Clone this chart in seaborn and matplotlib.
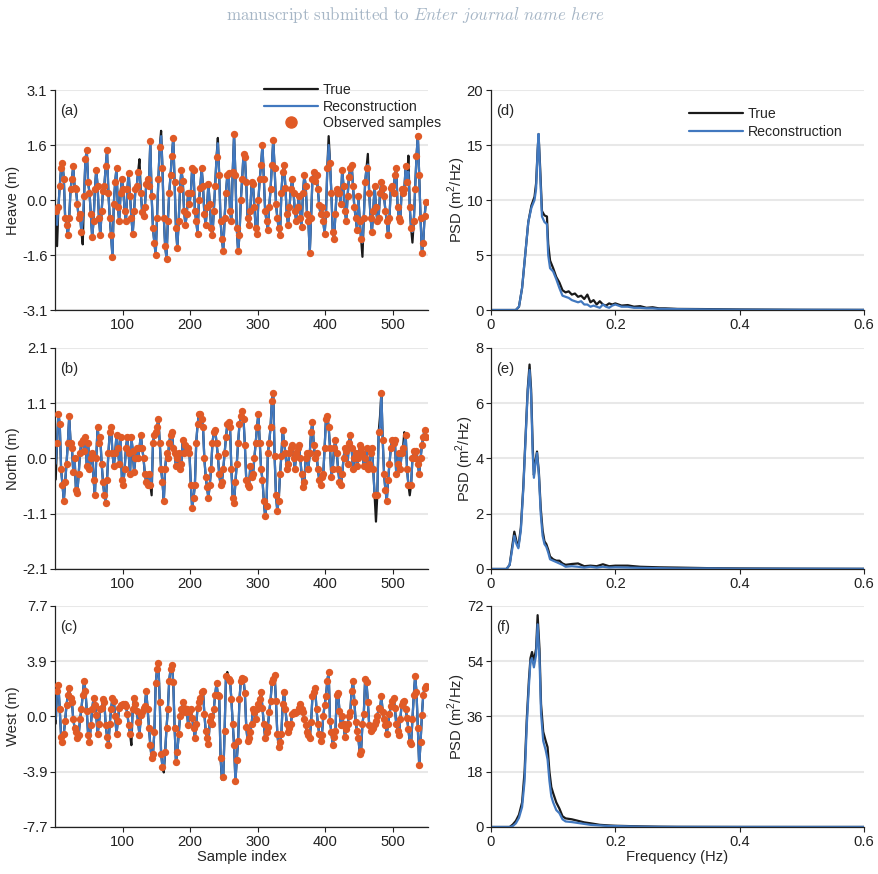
import numpy as np
import pandas as pd
import matplotlib
matplotlib.use("Agg")
import matplotlib.pyplot as plt
import seaborn as sns
from matplotlib.lines import Line2D

# time series, one value every 2 samples (s = 1, 3, 5, ...)
heave_true = [
    -0.3, -1.3, -0.2, 0.4, 0.9, 1.05, 0.6, -0.5, -0.7, -1.0, -0.5, 0.3, 0.6, 0.95, 0.35, 0.3, -0.1, -0.5, -0.4, -0.9, -1.25, 0.1, 1.15, 1.4, 0.5,
    0.2, -0.4, -1.05, -0.6, 0.3, 0.85, 0.4, -0.5, -1.0, -0.3, 0.25, 0.4, 0.95, 1.4, 0.2, -0.5, -1.0, -1.6, -0.1, 0.5, 0.9, -0.2, -0.6, 0.2, 0.6,
    0.3, -0.3, -0.6, 0.3, 0.75, 0.1, -0.5, -0.95, -0.3, 0.3, 0.4, 0.8, 1.15, 0.2, -0.35, -0.45, -0.2, 0.45, 0.6, 0.4, 1.65, 0.1, -0.8, -1.2, -1.55,
    -0.5, 0.6, 1.5, 1.95, 0.9, -0.5, -1.3, -1.65, -0.6, 0.2, 0.7, 1.25, 1.75, 0.5, -0.8, -1.35, -0.6, 0.3, 0.85, 0.55, -0.3, -0.7, -0.4, 0.2, -0.1,
    0.2, 0.9, 0.85, -0.3, -0.6, -0.95, 0.0, 0.35, 0.9, 0.4, -0.4, -0.7, -0.2, 0.45, -0.1, -0.8, -1.0, -0.3, 0.4, 1.2, 1.75, 0.7, -0.6, -1.1, -1.45,
    -0.5, 0.2, 0.7, 0.75, -0.3, -0.6, 0.8, 1.85, 0.7, -0.8, -1.45, -1.0, 0.0, 0.6, 1.3, 1.2, 0.5, -0.5, -0.7, -0.3, 0.5, 0.45, -0.2, -0.8, -0.95,
    0.0, 0.6, 1.0, 1.55, 0.6, -0.3, -0.6, -0.85, -0.2, 0.3, 1.0, 1.7, 0.9, -0.1, -0.5, -0.8, -1.0, 0.2, 0.8, 1.0, 0.35, -0.4, -0.7, -0.2, 0.3,
    0.6, 0.2, -0.3, -0.6, -0.2, 0.1, -0.5, -0.75, 0.2, 0.7, 0.4, -0.4, -0.6, -1.5, -0.5, 0.6, 0.8, 0.55, 0.7, 0.3, -0.15, -0.4, -0.2, -0.6, -0.95,
    -0.4, 0.9, 1.8, 1.05, 0.2, -0.9, -1.1, -0.4, 0.3, 0.2, 0.2, -0.1, 0.85, 0.4, -0.3, -0.6, 0.1, 0.65, 0.9, 1.0, 0.4, -0.2, -0.5, -0.85, 0.1,
    -0.6, -1.1, -1.6, -0.5, 0.5, 0.9, 1.3, 0.2, -0.5, -0.9, -0.3, 0.4, -0.2, -0.6, -0.5, 0.2, 0.5, 0.35, 0.1, -0.3, -0.6, -1.0, -0.5, 0.35, 0.4,
    0.2, 0.7, 0.9, -0.2, -0.5, -0.6, 0.3, 0.2, 0.3, 0.95, 0.5, 1.25, -0.2, -0.8, -1.2, -0.6, 0.3, 1.25, 1.8, 0.7, -0.5, -1.5, -1.2, -0.45, -0.05,
]
heave_recon_diff = {3: -0.7, 41: -0.6, 125: 0.75, 157: 1.8, 241: 1.6, 405: 1.55, 455: -1.2, 463: 1.0, 523: 0.8, 529: -0.9}

north_true = [
    -0.4, 0.3, 0.85, 0.65, -0.2, -0.5, -0.8, -0.45, -0.1, 0.3, 0.8, 0.3, 0.2, -0.25, 0.0, -0.6, -0.65, -0.3, 0.1, 0.3, 0.35, 0.15, 0.4, -0.15, 0.3,
    -0.2, 0.0, 0.1, -0.4, -0.7, 0.0, 0.6, 0.3, 0.4, -0.1, -0.45, -0.7, -0.85, -0.4, 0.1, 0.5, 0.6, 0.1, -0.15, 0.1, 0.45, 0.2, -0.1, 0.4, -0.4,
    -0.5, -0.2, 0.2, 0.4, 0.1, -0.3, 0.4, 0.15, -0.25, 0.0, 0.2, 0.0, 0.2, 0.45, 0.2, 0.0, -0.3, -0.45, -0.5, -0.3, -0.5, -0.7, 0.3, 0.45, 0.5,
    0.6, 0.75, 0.3, -0.2, -0.45, -0.8, -0.2, 0.1, 0.0, 0.3, 0.45, 0.5, 0.2, 0.1, -0.15, 0.0, 0.1, -0.2, -0.1, 0.35, 0.1, 0.25, 0.15, 0.2, 0.1,
    -0.5, -0.95, -0.75, -0.5, 0.3, 0.65, 0.85, 0.85, 0.75, 0.6, 0.0, -0.35, -0.55, -0.75, -0.5, -0.2, 0.3, 0.5, 0.55, 0.3, 0.05, -0.3, -0.5, -0.45, -0.2,
    0.1, 0.4, 0.65, 0.7, 0.6, -0.2, -0.75, -0.85, -0.45, -0.1, 0.3, 0.65, 0.8, 0.9, 0.75, 0.25, -0.4, -0.5, -0.55, -0.15, -0.35, -0.3, 0.0, 0.3, 0.6,
    0.85, 0.3, -0.2, -0.4, -0.8, -1.1, -0.9, 0.1, 0.3, 0.6, 1.1, 1.25, 0.05, -0.7, -1.0, -0.8, -0.3, 0.05, 0.55, 0.3, 0.1, -0.2, -0.1, 0.1, 0.2,
    0.25, 0.0, -0.2, 0.1, 0.2, 0.25, 0.0, -0.3, -0.55, -0.45, 0.0, 0.1, -0.2, 0.1, 0.5, 0.7, 0.25, 0.0, 0.1, -0.2, -0.4, -0.5, -0.35, -0.3, 0.2,
    0.75, 0.8, 0.6, 0.2, -0.35, -0.2, 0.2, 0.35, 0.1, -0.2, -0.45, -0.5, -0.3, 0.0, 0.2, 0.15, -0.1, 0.3, 0.45, 0.2, -0.2, 0.0, 0.1, -0.15, 0.0,
    0.25, 0.2, 0.1, -0.15, 0.0, 0.2, -0.2, -0.1, 0.1, 0.2, -0.2, -0.7, -1.2, -0.7, 0.5, 0.8, 1.25, 0.35, -0.3, -0.6, -0.8, -0.4, -0.1, 0.2, 0.35,
    0.3, 0.35, -0.3, -0.1, 0.1, -0.2, 0.1, 0.2, 0.5, 0.45, -0.2, -0.5, -0.7, -0.5, 0.0, 0.15, 0.0, 0.15, -0.1, -0.3, 0.0, 0.25, 0.4, 0.55, 0.4,
]
north_recon_diff = {1: -0.1, 143: -0.5, 475: -0.75, 481: 0.6, 517: 0.3, 525: -0.5}

west_true = [
    -0.5, 1.8, 2.2, 0.5, -1.4, -1.75, -1.2, -0.3, 0.8, 1.5, 2.0, 1.3, 1.0, -0.2, -0.8, -1.1, -1.5, -1.3, -0.2, 0.5, 1.5, 2.5, 1.8, 0.4, -1.3,
    -1.8, -0.6, 0.5, 1.3, 0.8, 0.1, -1.25, -0.5, 0.5, 0.6, 1.2, 1.0, -0.6, -1.4, -2.0, -0.5, 0.5, 1.3, 1.1, 0.0, -1.2, -0.3, 0.6, 0.8, 0.8,
    0.9, 0.85, 0.7, 0.2, -0.6, -1.2, -2.0, 0.5, 1.3, 0.9, 0.4, -0.4, -1.3, 0.1, 0.3, 0.6, 0.7, 1.8, 0.5, -0.8, -2.0, -2.9, -2.6, -1.1, 2.3,
    3.3, 3.7, 1.0, -2.6, -3.5, -3.9, -2.5, -0.8, 0.5, 2.5, 3.3, 3.6, 2.4, -0.8, -3.2, -2.5, -1.2, 0.0, 0.5, 1.0, 0.6, 0.3, 0.5, -0.6, 0.3,
    0.5, -0.1, -0.8, -1.5, -0.5, 0.6, 1.0, 1.3, 1.7, 1.8, 0.2, -1.0, -1.5, -1.9, -0.3, 0.0, -0.5, 0.5, 1.5, 2.3, 1.5, 1.4, -2.9, -4.4, -4.2,
    -1.0, 2.8, 3.1, 2.6, 2.5, 1.2, -0.5, -2.0, -4.5, -3.0, -1.7, 1.2, 2.5, 2.7, 2.6, 1.6, -0.7, -1.7, -1.5, -1.1, -0.5, 0.5, 0.3, -0.2, 0.5,
    0.9, 1.2, 1.7, 0.6, -0.5, -1.5, -1.1, -0.7, 0.3, 1.1, 2.4, 2.6, 2.9, 1.1, -1.2, -2.1, -1.8, -1.2, 0.9, 1.7, 0.5, -0.5, -1.1, -0.8, -0.5,
    0.2, 0.3, 0.25, 0.3, 0.4, 0.6, 0.9, 0.5, 0.3, -0.2, -0.6, -1.1, -1.3, -1.5, -0.4, 1.4, 1.7, 2.0, 0.5, -0.5, -1.2, -1.7, -1.3, 0.0, 0.8,
    1.4, 2.5, 3.1, -0.3, -1.1, -2.0, -1.4, -1.0, 1.5, 1.6, 0.4, -0.6, 0.0, -0.5, -1.4, -0.9, -0.5, 0.0, 0.3, 1.8, 2.5, 1.0, -0.4, -1.0, -1.5,
    -2.6, -2.4, -0.5, 0.2, 2.6, 2.4, 1.0, -0.6, -1.0, -0.9, -0.8, -0.5, -0.3, 0.0, 0.6, 0.5, 1.4, 0.3, -0.2, -0.6, -1.2, -0.5, 0.2, 0.7, 1.1,
    1.3, 0.6, -0.5, -1.0, -1.3, -0.2, 0.8, 1.0, 1.1, 0.5, -0.1, -0.9, -1.8, -1.9, -0.2, 1.5, 2.8, 1.7, -0.8, -3.4, -1.8, 0.1, 1.5, 2.0, 2.1,
]
west_recon_diff = {1: -0.2, 113: -1.2, 161: -3.5, 247: -4.2, 255: 2.8}

# power spectral densities
freq_d = [0, 0.04, 0.045, 0.05, 0.055, 0.06, 0.065, 0.07, 0.0725, 0.075, 0.0765, 0.079, 0.082, 0.086, 0.09, 0.092, 0.095,
          0.1, 0.105, 0.11, 0.115, 0.12, 0.125, 0.13, 0.135, 0.14, 0.145, 0.15, 0.155, 0.16, 0.165, 0.17, 0.175, 0.18,
          0.185, 0.19, 0.195, 0.2, 0.21, 0.22, 0.23, 0.24, 0.25, 0.26, 0.27, 0.28, 0.3, 0.35, 0.4, 0.5, 0.6]
psd_d_true = [0, 0.0, 0.3, 2.0, 5.0, 8.0, 9.5, 10.3, 11.5, 14.5, 16.0, 13.0, 9.0, 8.6, 8.5, 6.0, 4.5,
              3.8, 3.0, 2.5, 1.8, 1.6, 1.7, 1.4, 1.5, 1.2, 1.3, 1.0, 1.4, 0.7, 0.9, 0.5, 0.8, 0.5,
              0.4, 0.6, 0.5, 0.6, 0.4, 0.45, 0.3, 0.35, 0.2, 0.25, 0.15, 0.15, 0.1, 0.08, 0.05, 0.02, 0.01]
psd_d_recon = [0, 0.0, 0.3, 2.0, 5.0, 8.0, 9.3, 10.0, 11.0, 14.5, 16.0, 12.5, 8.5, 8.0, 7.8, 5.0, 3.8,
               3.5, 2.8, 2.0, 1.3, 1.2, 1.1, 0.9, 0.8, 0.7, 0.8, 0.5, 0.5, 0.3, 0.4, 0.3, 0.2, 0.5,
               0.3, 0.2, 0.4, 0.5, 0.3, 0.3, 0.2, 0.2, 0.15, 0.15, 0.1, 0.1, 0.08, 0.05, 0.03, 0.02, 0.01]

freq_e = [0, 0.025, 0.03, 0.034, 0.0375, 0.041, 0.044, 0.048, 0.052, 0.056, 0.059, 0.062, 0.0645, 0.067, 0.069, 0.0715,
          0.074, 0.077, 0.08, 0.083, 0.086, 0.089, 0.092, 0.095, 0.1, 0.105, 0.11, 0.115, 0.12, 0.13, 0.14, 0.15,
          0.16, 0.17, 0.18, 0.19, 0.2, 0.22, 0.24, 0.27, 0.3, 0.35, 0.4, 0.5, 0.6]
psd_e_true = [0, 0, 0.15, 0.8, 1.35, 1.0, 0.8, 1.5, 3.0, 5.0, 6.5, 7.4, 6.5, 4.5, 3.4, 3.9,
              4.25, 3.5, 2.2, 1.4, 1.0, 0.9, 0.7, 0.45, 0.35, 0.3, 0.3, 0.2, 0.15, 0.18, 0.2, 0.1,
              0.12, 0.1, 0.17, 0.1, 0.12, 0.12, 0.08, 0.06, 0.05, 0.03, 0.02, 0.01, 0.005]
psd_e_recon = [0, 0, 0.15, 0.7, 1.2, 0.9, 0.75, 1.4, 2.9, 4.9, 6.4, 7.2, 6.3, 4.2, 3.3, 3.8,
               4.2, 3.4, 2.0, 1.2, 0.9, 0.8, 0.6, 0.35, 0.3, 0.25, 0.2, 0.15, 0.08, 0.1, 0.08, 0.05,
               0.08, 0.05, 0.08, 0.05, 0.06, 0.05, 0.04, 0.03, 0.02, 0.02, 0.01, 0.01, 0.005]

freq_f = [0, 0.03, 0.035, 0.04, 0.045, 0.05, 0.054, 0.0575, 0.061, 0.0635, 0.066, 0.069, 0.0725, 0.075, 0.078, 0.0805,
          0.084, 0.088, 0.091, 0.094, 0.097, 0.1, 0.105, 0.11, 0.115, 0.12, 0.13, 0.14, 0.15, 0.16, 0.175, 0.19,
          0.2, 0.22, 0.24, 0.27, 0.3, 0.4, 0.5, 0.6]
psd_f_true = [0, 0, 0.8, 2.0, 4.0, 8.0, 18, 35, 48, 55, 57, 54, 58, 69, 58, 40,
              31, 28, 26, 18, 13, 11, 8, 6, 3.5, 2.8, 2.5, 2.0, 1.5, 1.2, 0.7, 0.5,
              0.4, 0.3, 0.2, 0.1, 0.05, 0.02, 0.01, 0.01]
psd_f_recon = [0, 0, 0.3, 1.2, 3.0, 6.5, 15, 33, 46, 54, 55, 52, 56, 66, 55, 37,
               28, 25, 22, 15, 10, 8, 5.5, 4.5, 2.5, 1.8, 1.6, 1.3, 1.0, 0.7, 0.5, 0.3,
               0.3, 0.2, 0.1, 0.05, 0.03, 0.01, 0.01, 0.01]

ts_ylabels = ['Heave (m)', 'North (m)', 'West (m)']
ts_lims = [3.1, 2.1, 7.7]
ts_ticklabels = [['-3.1', '-1.6', '0.0', '1.6', '3.1'],
                 ['-2.1', '-1.1', '0.0', '1.1', '2.1'],
                 ['-7.7', '-3.9', '0.0', '3.9', '7.7']]
psd_lims = [20, 8, 72]
psd_ticks = [[0, 5, 10, 15, 20], [0, 2, 4, 6, 8], [0, 18, 36, 54, 72]]
panel_left = ['(a)', '(b)', '(c)']
panel_right = ['(d)', '(e)', '(f)']

BLACK = '#1a1a1a'
BLUE = '#4178bf'
ORANGE = '#e05a26'
GRID = '#e8e8e8'
FS = 10.6

sns.set_theme(style="ticks")
plt.rcParams['font.family'] = ['Liberation Sans', 'DejaVu Sans']
plt.rcParams['mathtext.fontset'] = 'custom'
plt.rcParams['mathtext.rm'] = 'Liberation Sans'
plt.rcParams['axes.edgecolor'] = '#222222'
plt.rcParams['xtick.color'] = '#222222'
plt.rcParams['ytick.color'] = '#222222'


def series_frame(vals, diff):
    s = 1 + 2 * np.arange(len(vals))
    df = pd.DataFrame({'s': s, 'true': vals})
    df['recon'] = df['true']
    for k, v in diff.items():
        df.loc[df['s'] == k, 'recon'] = v
    df['obs'] = ~df['s'].isin(list(diff.keys()))
    return df


def style_axes(ax, ylim, yticks, yticklabels):
    ax.set_ylim(-ylim if yticks[0] < 0 else 0, ylim)
    ax.set_yticks(yticks)
    ax.set_yticklabels(yticklabels)
    ax.yaxis.grid(True, color=GRID, lw=1.5)
    ax.xaxis.grid(False)
    ax.set_axisbelow(True)
    sns.despine(ax=ax)
    ax.tick_params(labelsize=FS, length=3.5, width=0.8, pad=2, colors='#222222')
    for sp in ax.spines.values():
        sp.set_linewidth(0.9)


fig = plt.figure(figsize=(8.79, 8.74), dpi=100)
rows_bottom = [0.6453, 0.3490, 0.0538]
rows_height = [0.2517, 0.2529, 0.2529]

frames = [series_frame(heave_true, heave_recon_diff),
          series_frame(north_true, north_recon_diff),
          series_frame(west_true, west_recon_diff)]
psd = [(freq_d, psd_d_true, psd_d_recon), (freq_e, psd_e_true, psd_e_recon), (freq_f, psd_f_true, psd_f_recon)]

for i in range(3):
    # time series
    ax = fig.add_axes([0.0626, rows_bottom[i], 0.4243, rows_height[i]])
    df = frames[i]
    sns.lineplot(data=df, x='s', y='true', ax=ax, color=BLACK, lw=1.6, estimator=None)
    sns.lineplot(data=df, x='s', y='recon', ax=ax, color=BLUE, lw=1.6, estimator=None)
    sns.scatterplot(data=df[df['obs']], x='s', y='true', ax=ax, color=ORANGE, s=28, linewidth=0, zorder=5)
    lim = ts_lims[i]
    style_axes(ax, lim, [-lim, -lim / 2, 0, lim / 2, lim], ts_ticklabels[i])
    ax.set_xlim(0, 552)
    ax.set_xticks([100, 200, 300, 400, 500])
    ax.set_ylabel(ts_ylabels[i], fontsize=FS, labelpad=1)
    ax.set_xlabel('Sample index' if i == 2 else '', fontsize=FS, labelpad=1)
    ax.text(0.013, 0.905, panel_left[i], transform=ax.transAxes, fontsize=FS, va='center', ha='left')
    if i == 0:
        handles = [Line2D([], [], color=BLACK, lw=1.6),
                   Line2D([], [], color=BLUE, lw=1.6),
                   Line2D([], [], color=ORANGE, marker='o', ls='', markersize=8)]
        ax.legend(handles, ['True', 'Reconstruction', 'Observed samples'], loc='upper left',
                  bbox_to_anchor=(0.56, 1.03), frameon=False, fontsize=10.2, handlelength=3.8,
                  labelspacing=0.15, handletextpad=0.35, borderaxespad=0, borderpad=0)

    # spectra
    ax = fig.add_axes([0.5586, rows_bottom[i], 0.4243, rows_height[i]])
    f, pt, pr = psd[i]
    pdf = pd.DataFrame({'f': f, 'true': pt, 'recon': pr})
    sns.lineplot(data=pdf, x='f', y='true', ax=ax, color=BLACK, lw=1.6, estimator=None)
    sns.lineplot(data=pdf, x='f', y='recon', ax=ax, color=BLUE, lw=1.6, estimator=None)
    style_axes(ax, psd_lims[i], psd_ticks[i], [str(t) for t in psd_ticks[i]])
    ax.set_xlim(0, 0.6)
    ax.set_xticks([0, 0.2, 0.4, 0.6])
    ax.set_xticklabels(['0', '0.2', '0.4', '0.6'])
    ax.set_ylabel(r'PSD (m$^2$/Hz)', fontsize=FS, labelpad=-1)
    ax.set_xlabel('Frequency (Hz)' if i == 2 else '', fontsize=FS, labelpad=1)
    ax.text(0.013, 0.905, panel_right[i], transform=ax.transAxes, fontsize=FS, va='center', ha='left')
    if i == 0:
        handles = [Line2D([], [], color=BLACK, lw=1.6), Line2D([], [], color=BLUE, lw=1.6)]
        ax.legend(handles, ['True', 'Reconstruction'], loc='upper left', bbox_to_anchor=(0.53, 0.922),
                  frameon=False, fontsize=10.2, handlelength=3.8, labelspacing=0.25, handletextpad=0.35,
                  borderaxespad=0, borderpad=0)

fig.text(0.4727, 0.983, r'$\mathrm{manuscript\ submitted\ to\ }\mathit{Enter\ journal\ name\ here}$',
         math_fontfamily='cm', color='#a6b6c6', fontsize=12.2, ha='center', va='center')

fig.savefig('out.png', dpi=100)
